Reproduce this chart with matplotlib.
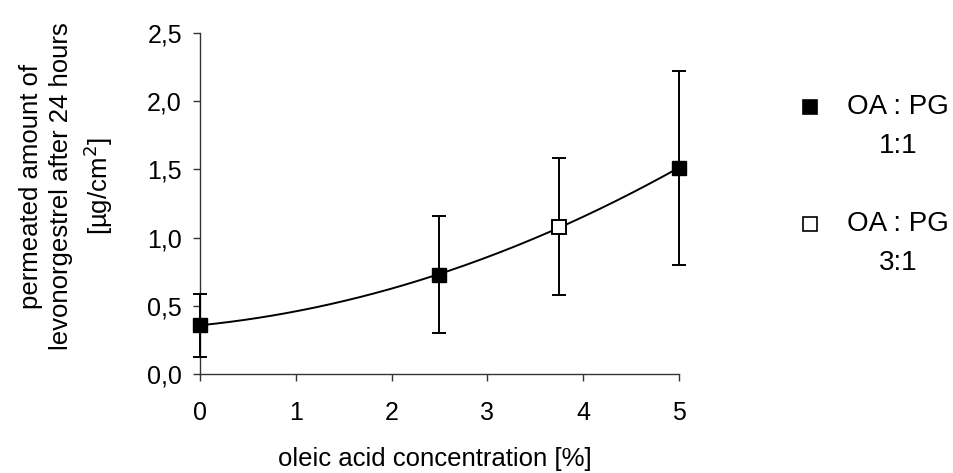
import numpy as np
import matplotlib
matplotlib.use("Agg")
import matplotlib.pyplot as plt
from matplotlib.lines import Line2D

plt.rcParams['font.family'] = ['Liberation Sans', 'DejaVu Sans']

# oleic acid concentration [%] and permeated levonorgestrel after 24 h [µg/cm²]
conc_11 = [0.0, 2.5, 5.0]
amount_11 = [0.36, 0.73, 1.51]
sd_11 = [0.23, 0.43, 0.71]

conc_31 = [3.75]
amount_31 = [1.08]
sd_31 = [0.50]

x_ticks = [0, 1, 2, 3, 4, 5]
y_ticks = [0.0, 0.5, 1.0, 1.5, 2.0, 2.5]
y_tick_labels = ["0,0", "0,5", "1,0", "1,5", "2,0", "2,5"]

fig = plt.figure(figsize=(9.54, 4.73), dpi=100)
ax = fig.add_axes([0.2096, 0.2085, 0.5021, 0.7224])

# second-order trend line over all measurements
all_x = np.array(conc_11 + conc_31)
all_y = np.array(amount_11 + amount_31)
coef = np.polyfit(all_x, all_y, 2)
xs = np.linspace(0, 5, 200)
ax.plot(xs, np.polyval(coef, xs), color='black', lw=1.4, zorder=2)

ax.errorbar(conc_11, amount_11, yerr=sd_11, fmt='s', color='black',
            mfc='black', mec='black', ms=9.5, ecolor='black', elinewidth=1.4,
            capsize=5, capthick=1.4, clip_on=False, zorder=3)
ax.errorbar(conc_31, amount_31, yerr=sd_31, fmt='s', color='black',
            mfc='white', mec='black', mew=1.4, ms=9.5, ecolor='black',
            elinewidth=1.4, capsize=5, capthick=1.4, clip_on=False, zorder=3)

ax.set_xlim(0, 5)
ax.set_ylim(0, 2.5)
ax.set_xticks(x_ticks)
ax.set_xticklabels([str(t) for t in x_ticks])
ax.set_yticks(y_ticks)
ax.set_yticklabels(y_tick_labels)

for side in ('top', 'right'):
    ax.spines[side].set_visible(False)
for side in ('left', 'bottom'):
    ax.spines[side].set_color('#333333')
    ax.spines[side].set_linewidth(1.0)

ax.tick_params(axis='both', colors='#333333', labelcolor='black',
               labelsize=18, length=5, width=1.0)
ax.tick_params(axis='x', pad=14.5)
ax.tick_params(axis='y', pad=8)

ax.set_xlabel("oleic acid concentration [%]", fontsize=18.5, va='center')
ax.xaxis.set_label_coords(0.4905, -0.248)
ax.set_ylabel("permeated amount of\nlevonorgestrel after 24 hours\n[µg/cm$^2$]",
              fontsize=18.5, linespacing=1.32, va='center', ha='center')
ax.yaxis.set_label_coords(-0.278, 0.55)

# legend entries
legend_items = [
    (0.849, 0.774, 'black', "OA : PG", "1:1"),
    (0.849, 0.526, 'white', "OA : PG", "3:1"),
]
for mx, my, face, line1, line2 in legend_items:
    fig.add_artist(Line2D([mx], [my], transform=fig.transFigure, marker='s',
                          ms=10, mfc=face, mec='black', mew=1.2, ls='none'))
    fig.text(0.8875, my, line1, fontsize=20, va='center', ha='left')
    fig.text(0.941, my - 0.0825, line2, fontsize=20, va='center', ha='center')

fig.savefig("out.png", dpi=100)
